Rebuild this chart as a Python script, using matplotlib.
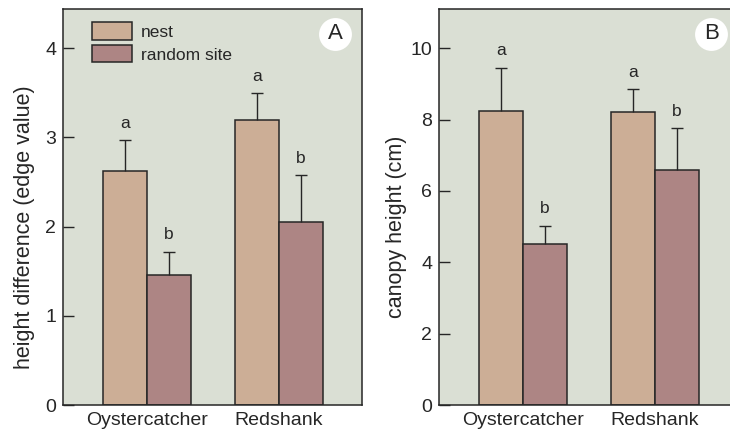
import numpy as np
import matplotlib.pyplot as plt

plt.rcParams['font.family'] = ['Liberation Sans', 'DejaVu Sans']

species = ['Oystercatcher', 'Redshank']
series = ['nest', 'random site']
letters_nest = ['a', 'a']
letters_rand = ['b', 'b']

# panel A: height difference (edge value)
edge_nest = [2.62, 3.19]
edge_nest_se = [0.35, 0.31]
edge_rand = [1.46, 2.05]
edge_rand_se = [0.26, 0.53]

# panel B: canopy height (cm)
canopy_nest = [8.24, 8.22]
canopy_nest_se = [1.22, 0.64]
canopy_rand = [4.52, 6.58]
canopy_rand_se = [0.51, 1.18]

c_nest = '#ccae96'
c_rand = '#ad8584'
c_bg = '#dadfd4'
c_ink = '#262626'

W, H = 730, 436
fig = plt.figure(figsize=(W / 100, H / 100), dpi=100)
axA = fig.add_axes([63 / W, 31 / H, 299 / W, 396 / H])
axB = fig.add_axes([439 / W, 31 / H, 299 / W, 396 / H])

w = 1 / 3
x = np.arange(len(species))


def draw_panel(ax, nest, nest_se, rand, rand_se, ymax, yticks, ylabel, tag,
               label_x):
    ax.set_facecolor(c_bg)
    ekw = dict(ecolor=c_ink, elinewidth=1.0, capsize=4.5, capthick=1.0)
    zeros = np.zeros(len(nest))
    bars = []
    for xs, vals, se, col, lab in [(x - w / 2, nest, nest_se, c_nest, series[0]),
                                   (x + w / 2, rand, rand_se, c_rand, series[1])]:
        b = ax.bar(xs, vals, w, color=col, edgecolor=c_ink, linewidth=1.1,
                   label=lab, yerr=[zeros, se], error_kw=ekw)
        # only the upper cap is wanted
        b.errorbar.lines[1][0].set_visible(False)
        bars.append(b)

    for xs, vals, se, lets in [(x - w / 2, nest, nest_se, letters_nest),
                               (x + w / 2, rand, rand_se, letters_rand)]:
        for xi, v, e, t in zip(xs, vals, se, lets):
            ax.annotate(t, (xi, v + e), xytext=(0, 12),
                        textcoords='offset points', ha='center', va='center',
                        fontsize=12.5, color=c_ink)

    ax.set_xlim(-0.636, 1.63)
    ax.set_ylim(0, ymax)
    ax.set_yticks(yticks)
    ax.set_xticks(x)
    ax.set_xticklabels(species)
    ax.tick_params(axis='y', direction='in', length=8, width=1.0,
                   color=c_ink, labelsize=14, labelcolor=c_ink, pad=5)
    ax.tick_params(axis='x', length=0, labelsize=14, labelcolor=c_ink, pad=5)
    for s in ax.spines.values():
        s.set_color(c_ink)
        s.set_linewidth(1.1)
    ax.set_ylabel(ylabel, fontsize=15.5, color=c_ink)
    ax.yaxis.set_label_coords(label_x, 0.45)

    # panel tag in a white disc
    ax.scatter([0.91], [0.937], s=560, c='white', transform=ax.transAxes,
               clip_on=False, zorder=5, linewidths=0)
    ax.text(0.91, 0.937, tag, transform=ax.transAxes, ha='center',
            va='center', fontsize=16, color=c_ink, zorder=6)
    return bars


draw_panel(axA, edge_nest, edge_nest_se, edge_rand, edge_rand_se,
           4.44, [0, 1, 2, 3, 4], 'height difference (edge value)', 'A',
           -0.094)
draw_panel(axB, canopy_nest, canopy_nest_se, canopy_rand, canopy_rand_se,
           11.1, [0, 2, 4, 6, 8, 10], 'canopy height (cm)', 'B', -0.107)

axA.legend(loc='upper left', bbox_to_anchor=(0.098, 0.966), frameon=False,
           fontsize=12.5, handlelength=2.3, handleheight=1.15,
           labelspacing=0.3, handletextpad=0.5, borderpad=0,
           borderaxespad=0, labelcolor=c_ink)

fig.savefig('out.png', dpi=100)
